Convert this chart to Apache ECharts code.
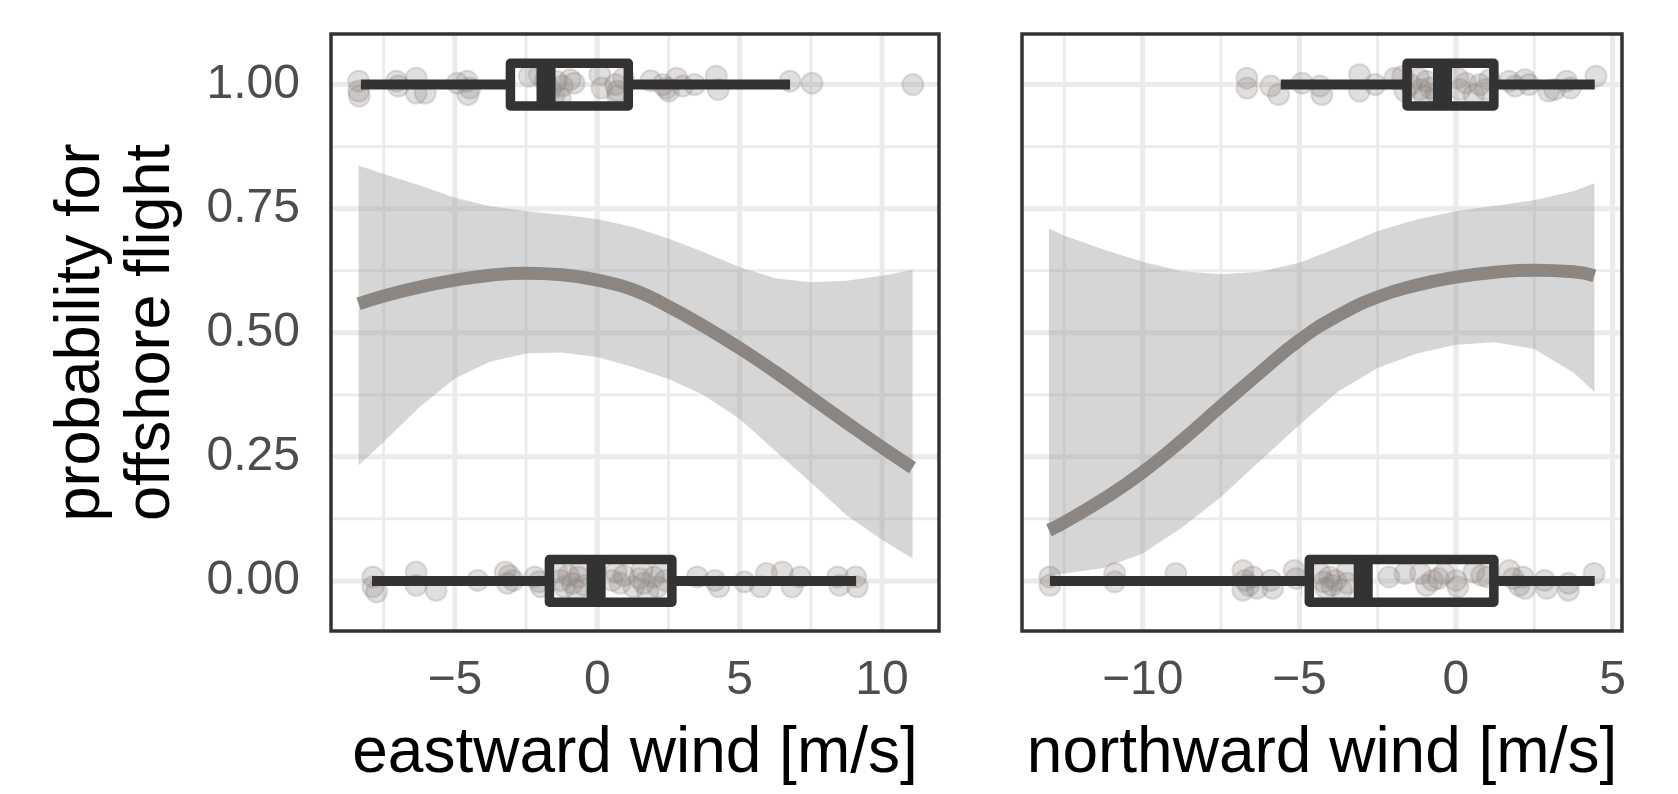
<!DOCTYPE html>
<html>
<head>
<meta charset="utf-8">
<script src="https://cdn.jsdelivr.net/npm/echarts/dist/echarts.min.js"></script>
<style>
  html, body { margin: 0; padding: 0; background: #fff; }
  #main { width: 1678px; height: 794px; }
</style>
</head>
<body>
<div id="main"></div>
<script>
// ---- eastward wind panel ----
var eastX     = [-8.38, -7.5, -6.25, -5, -3.75, -2.5, -1.25, 0, 1.25, 2.5, 3.75, 5, 6.25, 7.5, 8.75, 10, 11.07];
var eastFit   = [0.558, 0.574, 0.592, 0.606, 0.616, 0.620, 0.617, 0.606, 0.587, 0.553, 0.513, 0.469, 0.421, 0.370, 0.319, 0.269, 0.228];
var eastLower = [0.233, 0.280, 0.350, 0.408, 0.442, 0.458, 0.460, 0.451, 0.431, 0.407, 0.374, 0.326, 0.262, 0.198, 0.132, 0.083, 0.045];
var eastUpper = [0.837, 0.820, 0.797, 0.772, 0.755, 0.745, 0.738, 0.729, 0.713, 0.690, 0.662, 0.632, 0.610, 0.602, 0.605, 0.615, 0.627];
// boxplot: [y, lower whisker, Q1, median, Q3, upper whisker]
var eastBoxOffshore = [1, -8.30, -3.05, -1.80, 1.09, 6.77];
var eastBoxOnshore  = [0, -7.91, -1.68, -0.04, 2.62, 9.09];
var eastOffshore = [[-8.38,1.007],[-8.38,0.987],[-8.36,0.977],[-7.05,1.007],[-6.99,0.997],[-6.36,1.013],[-6.36,0.983],[-6.04,0.983],[-4.92,1.003],[-4.57,1.007],[-4.54,0.98],[-4.47,0.993],[-2.39,1.017],[-2.04,1.02],[-1.83,1.007],[-1.64,0.99],[-1.51,0.98],[-1.44,1.007],[-1.30,0.973],[-1.23,0.997],[-0.95,1.01],[-0.81,1.003],[0.09,1.02],[0.16,0.993],[0.64,1.0],[0.71,0.987],[0.71,0.977],[0.92,1.013],[1.88,1.008],[2.30,1.0],[2.44,0.993],[2.51,0.987],[2.79,1.013],[3.0,0.997],[3.42,1.0],[4.18,1.017],[4.25,0.99],[6.77,1.007],[7.54,1.003],[11.08,1.0]];
var eastOnshore = [[-7.88,0.008],[-7.88,-0.012],[-7.75,-0.022],[-6.36,0.018],[-6.36,-0.009],[-5.66,-0.019],[-4.20,0.001],[-3.23,0.018],[-3.09,0.011],[-2.95,0.001],[-3.16,-0.005],[-2.19,0.008],[-2.05,-0.002],[-1.98,-0.012],[-1.42,0.018],[-1.29,0.001],[-1.15,-0.012],[-1.01,0.011],[-0.87,-0.005],[-0.73,-0.019],[-0.66,0.008],[-0.59,0.021],[-0.45,-0.009],[0.52,0.001],[0.66,0.018],[0.80,-0.005],[0.94,0.011],[1.28,-0.012],[1.49,0.005],[1.56,0.021],[1.63,-0.005],[1.77,-0.022],[1.98,0.008],[2.12,-0.012],[2.26,0.018],[2.39,0.001],[3.51,0.008],[4.13,0.001],[4.27,-0.012],[5.17,-0.002],[5.73,-0.012],[5.94,0.015],[6.50,0.018],[6.84,-0.012],[7.12,0.008],[8.44,0.008],[8.51,-0.009],[9.07,0.008],[9.13,-0.012]];

// ---- northward wind panel ----
var northX     = [-12.99, -12.5, -11.25, -10, -8.75, -7.5, -6.25, -5, -3.75, -2.5, -1.25, 0, 1.25, 2.5, 3.75, 4.42];
var northFit   = [0.102, 0.118, 0.165, 0.219, 0.283, 0.352, 0.420, 0.485, 0.535, 0.572, 0.596, 0.612, 0.622, 0.626, 0.623, 0.615];
var northLower = [0.011, 0.015, 0.026, 0.055, 0.107, 0.169, 0.242, 0.314, 0.382, 0.429, 0.458, 0.476, 0.481, 0.467, 0.420, 0.381];
var northUpper = [0.710, 0.696, 0.668, 0.643, 0.624, 0.618, 0.623, 0.641, 0.672, 0.705, 0.728, 0.745, 0.756, 0.767, 0.785, 0.801];
var northBoxOffshore = [1, -5.59, -1.56, -0.43, 1.21, 4.43];
var northBoxOnshore  = [0, -12.96, -4.68, -2.96, 1.21, 4.43];
var northOffshore = [[-6.67,1.013],[-6.67,0.993],[-5.91,0.997],[-5.66,0.98],[-4.91,1.003],[-4.34,0.997],[-4.28,0.98],[-3.08,1.02],[-3.08,0.987],[-2.58,1.0],[-1.95,1.013],[-1.70,1.017],[-1.63,0.987],[-1.45,1.0],[-1.19,1.013],[-1.13,0.99],[-1.01,0.977],[-0.94,1.007],[-0.82,0.993],[-0.63,0.983],[0.06,1.013],[0.13,0.99],[0.32,1.003],[0.57,0.98],[0.76,1.0],[0.95,0.99],[1.07,1.01],[1.70,1.007],[1.89,0.997],[2.20,1.01],[2.33,1.0],[2.96,0.987],[3.15,0.99],[3.53,1.007],[3.65,0.993],[4.47,1.017]];
var northOnshore = [[-12.96,0.008],[-12.96,-0.009],[-10.89,0.015],[-10.89,-0.002],[-8.94,0.015],[-6.80,0.021],[-6.73,0.001],[-6.80,-0.019],[-6.61,-0.009],[-6.48,0.008],[-6.35,-0.015],[-5.91,0.001],[-5.85,-0.015],[-5.16,0.021],[-5.10,0.005],[-4.34,0.015],[-4.22,-0.002],[-4.15,-0.015],[-4.03,0.008],[-3.96,-0.009],[-3.84,0.001],[-3.65,-0.019],[-3.46,0.021],[-3.46,-0.005],[-2.14,0.008],[-1.63,0.015],[-1.13,0.015],[-0.94,-0.009],[-0.75,0.001],[-0.56,0.005],[-0.38,0.015],[0.00,0.001],[0.06,-0.012],[0.57,0.018],[0.82,0.011],[1.01,0.008],[1.70,0.021],[1.83,0.005],[2.02,-0.009],[2.14,0.008],[2.20,-0.015],[2.83,0.001],[2.90,-0.015],[3.59,-0.005],[3.59,-0.019],[4.41,0.015]];

// ---- axes / ticks ----
var eastTicks  = [-5, 0, 5, 10];
var eastMinor  = [-7.5, -2.5, 2.5, 7.5];
var northTicks = [-10, -5, 0, 5];
var northMinor = [-12.5, -7.5, -2.5, 2.5];
var yTicks = [0, 0.25, 0.5, 0.75, 1];
var yMinor = [0.125, 0.375, 0.625, 0.875];

var FONT = '"Liberation Sans", Arial, sans-serif';
var DARK = '#333333';
var FIT_COLOR = '#8B8682';
var BOX_HALF = 0.043;

var myChart = echarts.init(document.getElementById('main'));

function zip(xs, a, b) {
  return xs.map(function (x, i) { return b ? [x, a[i], b[i]] : [x, a[i]]; });
}

function gridLineData(xMajor, xMinor) {
  var d = [];
  xMinor.forEach(function (v) { d.push([v, 1, 0]); });
  yMinor.forEach(function (v) { d.push([v, 0, 0]); });
  xMajor.forEach(function (v) { d.push([v, 1, 1]); });
  yTicks.forEach(function (v) { d.push([v, 0, 1]); });
  return d;
}

function renderGridLine(params, api) {
  var cs = params.coordSys;
  var v = api.value(0);
  var shape;
  if (api.value(1)) {
    var px = api.coord([v, 0.5])[0];
    shape = { x1: px, y1: cs.y, x2: px, y2: cs.y + cs.height };
  } else {
    var py = api.coord([0, v])[1];
    shape = { x1: cs.x, y1: py, x2: cs.x + cs.width, y2: py };
  }
  return {
    type: 'line',
    shape: shape,
    style: { stroke: '#EBEBEB', lineWidth: api.value(2) ? 5 : 2.8 }
  };
}

function renderRibbon(params, api) {
  if (params.dataIndexInside !== 0) return;
  var n = params.dataInsideLength;
  var pts = [];
  for (var i = 0; i < n; i++) pts.push(api.coord([api.value(0, i), api.value(2, i)]));
  for (var j = n - 1; j >= 0; j--) pts.push(api.coord([api.value(0, j), api.value(1, j)]));
  return { type: 'polygon', shape: { points: pts }, style: { fill: 'rgba(153,153,153,0.4)' } };
}

function renderBox(params, api) {
  var y = api.value(0);
  var lo = api.coord([api.value(1), y]);
  var q1 = api.coord([api.value(2), y]);
  var md = api.coord([api.value(3), y]);
  var q3 = api.coord([api.value(4), y]);
  var hi = api.coord([api.value(5), y]);
  var h = api.size([0, BOX_HALF])[1];
  var cy = lo[1];
  var ls = { stroke: DARK, lineWidth: 10, fill: null };
  return {
    type: 'group',
    children: [
      { type: 'line', shape: { x1: lo[0], y1: cy, x2: q1[0], y2: cy }, style: ls },
      { type: 'line', shape: { x1: q3[0], y1: cy, x2: hi[0], y2: cy }, style: ls },
      { type: 'rect', shape: { x: q1[0], y: cy - h, width: q3[0] - q1[0], height: 2 * h },
        style: { stroke: DARK, lineWidth: 9.5, fill: null, lineJoin: 'round' } },
      { type: 'line', shape: { x1: md[0], y1: cy - h, x2: md[0], y2: cy + h },
        style: { stroke: DARK, lineWidth: 19 } }
    ]
  };
}

function minus(v) { return String(v).replace('-', '\u2212'); }

function xAxisOpt(idx, min, max, ticks, name) {
  return {
    type: 'value', gridIndex: idx, min: min, max: max,
    axisLine: { show: false },
    splitLine: { show: false },
    axisTick: { show: true, customValues: ticks, length: 14, lineStyle: { color: DARK, width: 3.5 } },
    axisLabel: { customValues: ticks, formatter: minus, fontSize: 48, color: '#4D4D4D', fontFamily: FONT, margin: 26 },
    name: name, nameLocation: 'middle', nameGap: 91,
    nameTextStyle: { fontSize: 64, color: '#000', fontFamily: FONT }
  };
}

function panelSeries(idx, xs, fit, lower, upper, boxes, pts, xMajor, xMinor) {
  var ptStyle = { color: 'rgba(139,134,130,0.33)', borderColor: 'rgba(139,134,130,0.33)', borderWidth: 2 };
  return [
    { type: 'custom', xAxisIndex: idx, yAxisIndex: idx, z: 1, silent: true,
      renderItem: renderGridLine, data: gridLineData(xMajor, xMinor), encode: { x: 0, y: 0 } },
    { type: 'custom', xAxisIndex: idx, yAxisIndex: idx, z: 2, silent: true,
      renderItem: renderRibbon, data: zip(xs, lower, upper), encode: { x: 0, y: [1, 2] } },
    { type: 'scatter', xAxisIndex: idx, yAxisIndex: idx, z: 3, silent: true,
      symbolSize: 21, itemStyle: ptStyle, data: pts[0] },
    { type: 'scatter', xAxisIndex: idx, yAxisIndex: idx, z: 3, silent: true,
      symbolSize: 21, itemStyle: ptStyle, data: pts[1] },
    { type: 'custom', xAxisIndex: idx, yAxisIndex: idx, z: 4, silent: true,
      renderItem: renderBox, data: boxes, encode: { x: [1, 2, 3, 4, 5], y: 0 } },
    { type: 'line', xAxisIndex: idx, yAxisIndex: idx, z: 5, silent: true,
      data: zip(xs, fit), showSymbol: false, smooth: 0.5,
      lineStyle: { color: FIT_COLOR, width: 13 } }
  ];
}

var option = {
  backgroundColor: '#ffffff',
  animation: false,
  grid: [
    { left: 331, top: 34, width: 608, height: 597, show: true, z: 10,
      backgroundColor: 'transparent', borderColor: DARK, borderWidth: 3.5 },
    { left: 1022, top: 34, width: 600, height: 597, show: true, z: 10,
      backgroundColor: 'transparent', borderColor: DARK, borderWidth: 3.5 }
  ],
  xAxis: [
    xAxisOpt(0, -9.35, 12.0, eastTicks, 'eastward wind [m/s]'),
    xAxisOpt(1, -13.85, 5.3, northTicks, 'northward wind [m/s]')
  ],
  yAxis: [
    { type: 'value', gridIndex: 0, min: -0.101, max: 1.102,
      axisLine: { show: false }, splitLine: { show: false },
      axisTick: { show: true, customValues: yTicks, length: 14, lineStyle: { color: DARK, width: 3.5 } },
      axisLabel: { customValues: yTicks, formatter: function (v) { return v.toFixed(2); },
        fontSize: 48, color: '#4D4D4D', fontFamily: FONT, margin: 31 },
      name: 'probability for\noffshore flight', nameLocation: 'middle', nameRotate: 90, nameGap: 144,
      nameTextStyle: { fontSize: 63, color: '#000', fontFamily: FONT, lineHeight: 70 } },
    { type: 'value', gridIndex: 1, min: -0.101, max: 1.102,
      axisLine: { show: false }, splitLine: { show: false },
      axisTick: { show: false }, axisLabel: { show: false } }
  ],
  series: [].concat(
    panelSeries(0, eastX, eastFit, eastLower, eastUpper, [eastBoxOffshore, eastBoxOnshore],
      [eastOffshore, eastOnshore], eastTicks, eastMinor),
    panelSeries(1, northX, northFit, northLower, northUpper, [northBoxOffshore, northBoxOnshore],
      [northOffshore, northOnshore], northTicks, northMinor)
  )
};

myChart.setOption(option);
</script>
</body>
</html>
